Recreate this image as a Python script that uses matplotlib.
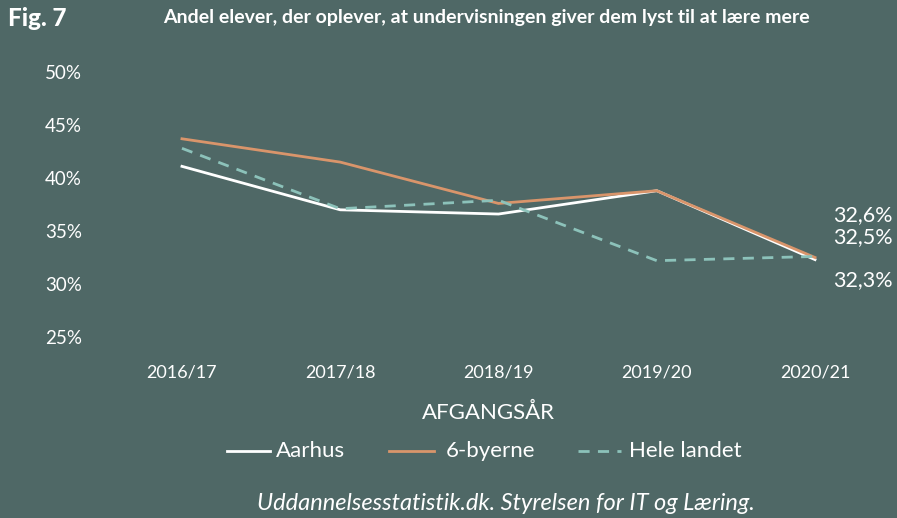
import matplotlib.pyplot as plt
from matplotlib.lines import Line2D

years = ['2016/17', '2017/18', '2018/19', '2019/20', '2020/21']
aarhus = [41.1, 37.0, 36.6, 38.8, 32.3]
byerne = [43.7, 41.5, 37.6, 38.8, 32.5]
hele_landet = [42.8, 37.1, 37.9, 32.2, 32.6]
end_labels = ['32,6%', '32,5%', '32,3%']
yticks = [25, 30, 35, 40, 45, 50]

bg = '#4f6866'
white = '#ffffff'
orange = '#d9956b'
teal = '#8cc2ba'
plt.rcParams['font.family'] = ['Lato', 'DejaVu Sans']

W, H = 897, 518
fig = plt.figure(figsize=(W / 100, H / 100), dpi=100, facecolor=bg)
ax = fig.add_axes([150 / W, (H - 337) / H, 700 / W, 265 / H])
ax.set_facecolor(bg)

x = range(len(years))
ax.plot(x, aarhus, color=white, lw=2)
ax.plot(x, byerne, color=orange, lw=2)
ax.plot(x, hele_landet, color=teal, lw=2, dashes=(4, 3))

ax.set_xlim(-0.202, 4.221)
ax.set_ylim(25, 50)
ax.set_xticks(list(x))
ax.set_xticklabels(years, fontsize=13, color=white)
ax.set_yticks(yticks)
ax.set_yticklabels([f'{v}%' for v in yticks], fontsize=13.5, color=white)
ax.tick_params(length=0)
ax.tick_params(axis='x', pad=20)
ax.tick_params(axis='y', pad=49)
for s in ax.spines.values():
    s.set_visible(False)

# end labels
for lab, ypix in zip(end_labels, [215, 237, 280]):
    fig.text(833 / W, 1 - ypix / H, lab, fontsize=15.5, color=white, va='center')

fig.text(8 / W, 1 - 18 / H, 'Fig. 7', fontsize=17.5, fontweight='black', color=white, va='center')
fig.text(163 / W, 1 - 18 / H, 'Andel elever, der oplever, at undervisningen giver dem lyst til at lære mere',
         fontsize=14, fontweight='bold', color=white, va='center')
fig.text(488 / W, 1 - 413 / H, 'AFGANGSÅR', fontsize=16, color=white, ha='center', va='center')
fig.text(506 / W, 1 - 503 / H, 'Uddannelsesstatistik.dk. Styrelsen for IT og Læring.',
         fontsize=17, style='italic', color=white, ha='center', va='center')

# legend drawn by hand
ly = 1 - 451 / H
legend_items = [(227, 270, 276, 'Aarhus', white, '-'),
                (389, 434, 446, '6-byerne', orange, '-'),
                (578, 621, 629, 'Hele landet', teal, '--')]
for x0, x1, tx, lab, col, ls in legend_items:
    ln = Line2D([x0 / W, x1 / W], [ly, ly], color=col, lw=2, transform=fig.transFigure)
    if ls == '--':
        ln.set_dashes((4, 3))
    fig.add_artist(ln)
    fig.text(tx / W, ly, lab, fontsize=16, color=white, va='center')

fig.savefig('out.png', dpi=100, facecolor=bg)
